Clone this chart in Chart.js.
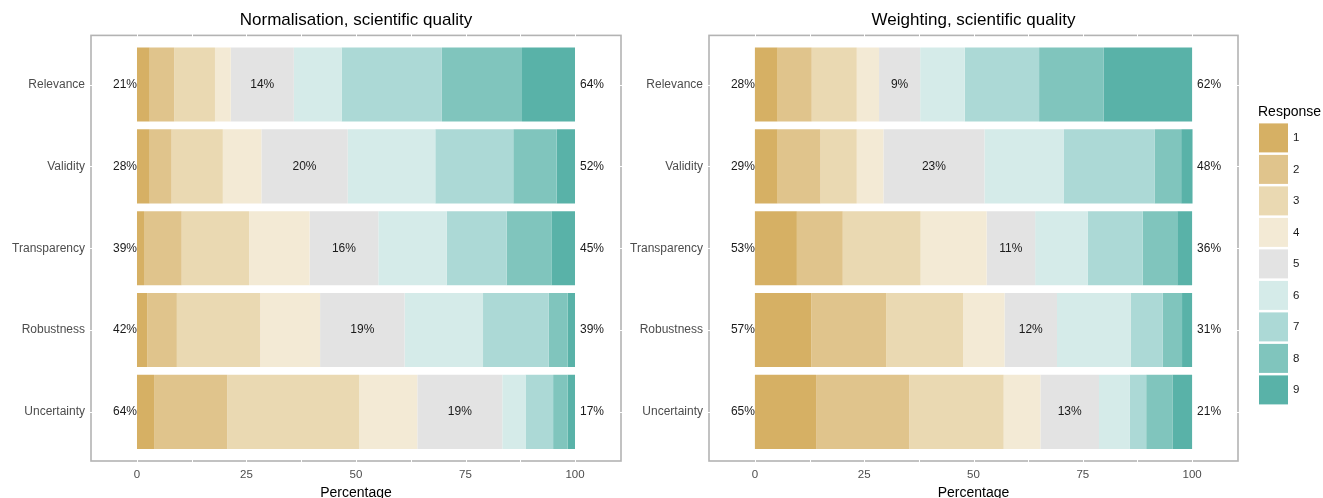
<!DOCTYPE html>
<html>
<head>
<meta charset="utf-8">
<script src="https://cdn.jsdelivr.net/npm/chart.js@4/dist/chart.umd.min.js"></script>
<style>
  html, body { margin: 0; padding: 0; background: #fff; overflow: hidden; width: 1323px; height: 498px; }
  .panel { position: absolute; top: 0; }
  #normPanel { left: 0; }
  #weightPanel { left: 619px; }
</style>
</head>
<body>
<div class="panel" id="normPanel"><canvas id="normChart" width="640" height="502"></canvas></div>
<div class="panel" id="weightPanel"><canvas id="weightChart" width="704" height="502"></canvas></div>
<script>
// Criteria (one bar each) and the 9-point response scale
const categories = ['Relevance', 'Validity', 'Transparency', 'Robustness', 'Uncertainty'];
const responseLevels = ['1', '2', '3', '4', '5', '6', '7', '8', '9'];
const responseColors = ['#d6b064', '#e0c48c', '#ead9b2', '#f3ead5', '#e3e3e3', '#d5ebe9', '#acd9d6', '#80c5bd', '#59b2a8'];
const xTicks = [0, 25, 50, 75, 100];
const gridBreaks = [0, 12.5, 25, 37.5, 50, 62.5, 75, 87.5, 100];

// Normalisation: % of responses per level, one value per criterion
const normResp1 = [2.9, 2.9, 1.6, 2.4, 3.9];
const normResp2 = [5.6, 5.0, 8.6, 6.7, 16.7];
const normResp3 = [9.3, 11.7, 15.4, 19.0, 30.1];
const normResp4 = [3.6, 8.8, 13.8, 13.7, 13.3];
const normResp5 = [14.4, 19.7, 15.7, 19.3, 19.4];
const normResp6 = [10.9, 20.0, 15.6, 17.9, 5.3];
const normResp7 = [22.9, 17.8, 13.7, 15.0, 6.3];
const normResp8 = [18.3, 9.9, 10.2, 4.3, 3.3];
const normResp9 = [12.1, 4.2, 5.4, 1.7, 1.7];

// Weighting: % of responses per level, one value per criterion
const wtResp1 = [5.2, 5.2, 9.6, 12.9, 14.0];
const wtResp2 = [7.8, 9.8, 10.5, 17.1, 21.3];
const wtResp3 = [10.3, 8.3, 17.8, 17.6, 21.6];
const wtResp4 = [5.1, 6.1, 15.1, 9.5, 8.4];
const wtResp5 = [9.4, 23.1, 11.1, 12.0, 13.4];
const wtResp6 = [10.2, 18.1, 12.0, 16.9, 7.0];
const wtResp7 = [17.0, 20.8, 12.6, 7.3, 3.8];
const wtResp8 = [14.8, 6.1, 7.9, 4.4, 6.0];
const wtResp9 = [20.2, 2.6, 3.4, 2.3, 4.5];

const normSeries = [normResp1, normResp2, normResp3, normResp4, normResp5, normResp6, normResp7, normResp8, normResp9];
const wtSeries = [wtResp1, wtResp2, wtResp3, wtResp4, wtResp5, wtResp6, wtResp7, wtResp8, wtResp9];

const FONT = '"Liberation Sans", Arial, Helvetica, sans-serif';

function buildDatasets(series) {
  return series.map((values, k) => ({
    label: responseLevels[k],
    data: values.map((v, i) => ({ x: v, y: i })),
    backgroundColor: responseColors[k],
    borderWidth: 0,
    categoryPercentage: 1,
    barPercentage: 0.905
  }));
}

// Grey panel frame with white grid marks crossing it
const panelFrame = {
  id: 'panelFrame',
  beforeDatasetsDraw(chart) {
    const { ctx, chartArea: a, scales: { x, y } } = chart;
    ctx.save();
    ctx.strokeStyle = '#b3b3b3';
    ctx.lineWidth = 1.6;
    ctx.strokeRect(a.left, a.top, a.right - a.left, a.bottom - a.top);
    ctx.strokeStyle = '#ffffff';
    ctx.lineWidth = 1;
    const seg = (x1, y1, x2, y2) => { ctx.beginPath(); ctx.moveTo(x1, y1); ctx.lineTo(x2, y2); ctx.stroke(); };
    gridBreaks.forEach(v => {
      const px = Math.round(x.getPixelForValue(v)) + 0.5;
      seg(px, a.top - 2, px, a.top + 2);
      seg(px, a.bottom - 2, px, a.bottom + 2);
    });
    categories.forEach((c, i) => {
      const py = Math.round(y.getPixelForValue(i)) + 0.5;
      seg(a.left - 2, py, a.left + 2, py);
      seg(a.right - 2, py, a.right + 2, py);
    });
    ctx.restore();
  }
};

// Percent labels: low (1-4), neutral (5) and high (6-9) shares
const shareLabels = {
  id: 'shareLabels',
  afterDatasetsDraw(chart) {
    const { ctx, scales: { x, y } } = chart;
    const series = chart.data.datasets.map(d => d.data.map(p => p.x));
    ctx.save();
    ctx.font = '12px ' + FONT;
    ctx.fillStyle = '#1a1a1a';
    ctx.textBaseline = 'middle';
    categories.forEach((c, i) => {
      const col = series.map(s => s[i]);
      const low = col.slice(0, 4).reduce((a, b) => a + b, 0);
      const mid = col[4];
      const high = col.slice(5).reduce((a, b) => a + b, 0);
      const py = y.getPixelForValue(i);
      ctx.textAlign = 'right';
      ctx.fillText(Math.round(low) + '%', x.getPixelForValue(0), py);
      ctx.textAlign = 'center';
      ctx.fillText(Math.round(mid) + '%', x.getPixelForValue(low + mid / 2), py);
      ctx.textAlign = 'left';
      ctx.fillText(Math.round(high) + '%', x.getPixelForValue(100) + 5, py);
    });
    ctx.restore();
  }
};

// "Response" key drawn to the right of the weighting panel
const responseKey = {
  id: 'responseKey',
  afterDraw(chart) {
    const { ctx, chartArea: a } = chart;
    ctx.save();
    ctx.textBaseline = 'middle';
    ctx.textAlign = 'left';
    ctx.fillStyle = '#000';
    ctx.font = '14px ' + FONT;
    ctx.fillText('Response', a.right + 20, a.top + 77);
    ctx.font = '11.5px ' + FONT;
    chart.data.datasets.forEach((d, k) => {
      const top = a.top + 88 + k * 31.5;
      ctx.fillStyle = d.backgroundColor;
      ctx.fillRect(a.right + 21, top, 29, 29);
      ctx.fillStyle = '#1a1a1a';
      ctx.fillText(d.label, a.right + 55, top + 14.5);
    });
    ctx.restore();
  }
};

function panelOptions(titleText, axisWidth, rightPad) {
  return {
    indexAxis: 'y',
    responsive: false,
    animation: false,
    layout: { padding: { left: 0, right: rightPad, top: 0, bottom: 0 } },
    plugins: {
      legend: { display: false },
      tooltip: { enabled: false },
      title: {
        display: true, text: titleText, fullSize: false, color: '#000',
        font: { family: FONT, size: 17, weight: 'normal', lineHeight: 1.2 },
        padding: { top: 10, bottom: 5 }
      }
    },
    scales: {
      x: {
        type: 'linear', min: -10.5, max: 110.5, stacked: true, offset: false,
        grid: { display: false, drawTicks: false }, border: { display: false },
        afterBuildTicks: s => { s.ticks = xTicks.map(v => ({ value: v })); },
        ticks: { color: '#4d4d4d', font: { family: FONT, size: 11.5 }, padding: 7, maxRotation: 0, autoSkip: false, callback: v => String(v) },
        title: { display: true, text: 'Percentage', color: '#000', font: { family: FONT, size: 14 }, padding: { top: 0, bottom: 0 } },
        afterFit: s => { s.height = 41; }
      },
      y: {
        type: 'linear', min: -0.6, max: 4.6, reverse: true, stacked: true, offset: false,
        grid: { display: false, drawTicks: false, offset: false }, border: { display: false },
        afterBuildTicks: s => { s.ticks = categories.map((c, i) => ({ value: i })); },
        ticks: { color: '#4d4d4d', font: { family: FONT, size: 12 }, padding: 6, autoSkip: false, callback: v => categories[v] },
        afterFit: s => { s.width = axisWidth; }
      }
    }
  };
}

new Chart(document.getElementById('normChart'), {
  type: 'bar',
  data: { datasets: buildDatasets(normSeries) },
  options: panelOptions('Normalisation, scientific quality', 91, 19),
  plugins: [panelFrame, shareLabels]
});

new Chart(document.getElementById('weightChart'), {
  type: 'bar',
  data: { datasets: buildDatasets(wtSeries) },
  options: panelOptions('Weighting, scientific quality', 90, 85),
  plugins: [panelFrame, shareLabels, responseKey]
});
</script>
</body>
</html>
